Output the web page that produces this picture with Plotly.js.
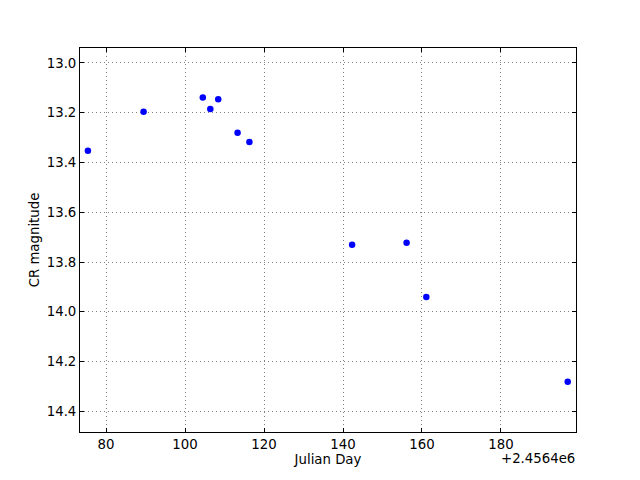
<!DOCTYPE html>
<html>
<head>
<meta charset="utf-8">
<script src="https://cdn.plot.ly/plotly-3.0.1.min.js"></script>
<style>html,body{margin:0;padding:0;background:#fff;}#plot{width:640px;height:480px;}</style>
</head>
<body>
<div id="plot"></div>
<script>
// Julian Day minus 2456400
var julianDay = [75.4, 89.5, 104.5, 106.4, 108.4, 113.3, 116.3, 142.3, 156.1, 161.1, 196.9];
var crMagnitude = [13.353, 13.196, 13.139, 13.185, 13.146, 13.281, 13.318, 13.731, 13.723, 13.941, 14.281];
var xTicks = [80, 100, 120, 140, 160, 180];
var yTicks = [13.0, 13.2, 13.4, 13.6, 13.8, 14.0, 14.2, 14.4];
var offsetLabel = "+2.4564e6";

var trace = {
  x: julianDay, y: crMagnitude, type: 'scatter', mode: 'markers',
  marker: {color: '#0000ff', size: 6.5, line: {width: 0}}, hoverinfo: 'none'
};
var font = {family: 'DejaVu Sans', size: 13.3, color: '#000'};
var axisCommon = {
  showline: true, linecolor: '#000', linewidth: 1, mirror: 'ticks',
  ticks: 'inside', ticklen: 4, tickcolor: '#000', tickwidth: 1,
  showgrid: true, gridcolor: '#808080', griddash: '1px,3px', gridwidth: 1,
  zeroline: false, tickfont: font
};
var layout = {
  width: 640, height: 480,
  margin: {l: 80, r: 64, t: 48, b: 48},
  paper_bgcolor: '#fff', plot_bgcolor: '#fff',
  font: font, showlegend: false,
  xaxis: Object.assign({}, axisCommon, {
    range: [73.4, 199.0], tickvals: xTicks, ticktext: xTicks.map(String),
    title: {text: 'Julian Day', font: font, standoff: 0}
  }),
  yaxis: Object.assign({}, axisCommon, {
    range: [14.483, 12.94], tickvals: yTicks, ticktext: yTicks.map(function(v){return v.toFixed(1);}),
    title: {text: 'CR magnitude', font: font, standoff: 4}
  }),
  annotations: [{
    text: offsetLabel, xref: 'paper', yref: 'paper', x: 1, y: 0,
    xanchor: 'right', yanchor: 'top', yshift: -17, xshift: 1, showarrow: false, font: font
  }]
};
Plotly.newPlot('plot', [trace], layout, {staticPlot: true, displayModeBar: false});
</script>
</body>
</html>
